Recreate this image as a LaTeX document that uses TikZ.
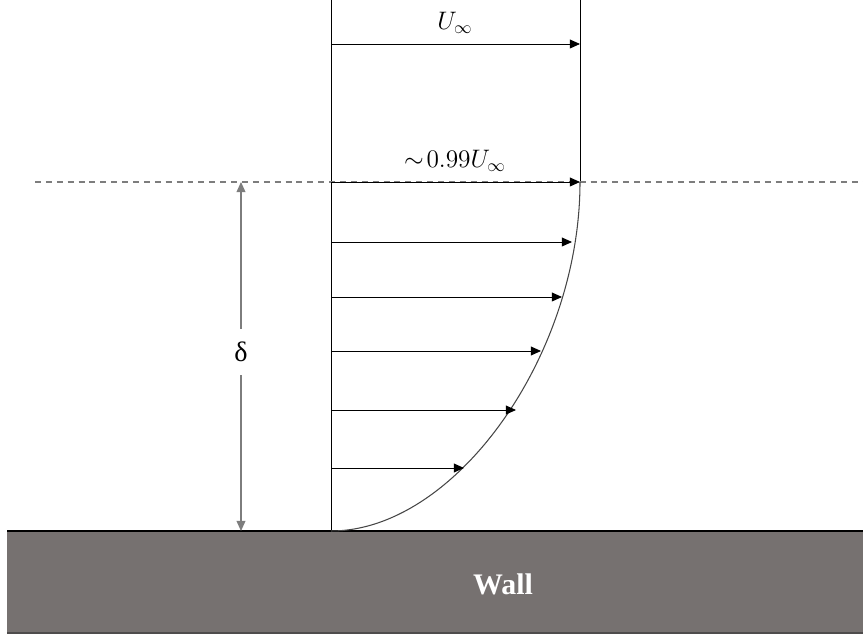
\documentclass[tikz,border=0pt]{standalone}
\usepackage{fontspec}
\usepackage{tikz}
\usetikzlibrary{arrows.meta, positioning, calc}
\newfontfamily\wallfont{Liberation Serif}
\definecolor{cWall}{RGB}{118,113,112}
\definecolor{cWallEdge}{RGB}{78,76,76}
\definecolor{cDim}{RGB}{125,125,125}
\definecolor{cProfile}{RGB}{70,70,70}
\tikzset{
	thinline/.style ={draw=black, line width=0.5pt},
	dashline/.style ={draw=cDim, line width=0.6pt, dash pattern=on 3.4pt off 2.8pt},
	velarrow/.style ={-{Triangle[length=5.7pt, width=5pt]}, line width=0.5pt},
	dimarrow/.style ={-{Triangle[length=5.7pt, width=5pt]}, draw=cDim, line width=0.6pt},
	speedlabel/.style={font=\fontsize{14.5}{17}\selectfont, inner sep=1pt},
}

\begin{document}
\begin{tikzpicture}[x=0.02cm, y=-0.02cm]
	\useasboundingbox (0,0) rectangle (863,634);
	% wall
	\fill[cWall] (7,531) rectangle (863,633);
	\draw[cWallEdge, line width=0.8pt] (7,633) -- (863,633);
	\draw[line width=1.2pt] (7,531) -- (863,531);
	\node[text=white, font=\wallfont\bfseries\fontsize{17}{20}\selectfont] (wall) at (503,584) {Wall};
	% frame of the profile
	\coordinate (base) at (331,531);
	\coordinate (axistop) at (331,0);
	\coordinate (edge) at (580,182);
	\coordinate (edgetop) at (580,0);
	\coordinate (dashL) at (35,182);
	\coordinate (dashR) at (863,182);
	\draw[thinline] (axistop) -- (base);
	\draw[thinline] (edgetop) -- (edge);
	\draw[dashline] (dashL) -- (dashR);
	\draw[cProfile, line width=0.6pt] (base) .. controls (455,531) and (580,356) .. (edge);
	% free stream and edge arrows
	\coordinate (freeL) at (331,44);
	\coordinate (freeR) at (580,44);
	\coordinate (edgeL) at (331,182);
	\draw[velarrow] (freeL) -- (freeR);
	\draw[velarrow] (edgeL) -- (edge);
	\node[speedlabel] (uinf) at (455,23) {$U_\infty$};
	\node[speedlabel] (u99) at (455,161) {$\sim\!0.99U_\infty$};
	% velocities inside the layer
	\foreach \y/\x in {242/572, 297/562, 351/541, 410/516, 468/464}{
		\coordinate (s\y) at (331,\y);
		\coordinate (e\y) at (\x,\y);
		\draw[velarrow] (s\y) -- (e\y);
	}
	% thickness
	\coordinate (dtop) at (241,182);
	\coordinate (dbot) at (241,531);
	\node[minimum height=26pt, inner sep=0pt, font=\wallfont\fontsize{16}{18}\selectfont] (delta) at (241,352) {δ};
	\draw[dimarrow] (delta.north) -- (dtop);
	\draw[dimarrow] (delta.south) -- (dbot);
\end{tikzpicture}
\end{document}
